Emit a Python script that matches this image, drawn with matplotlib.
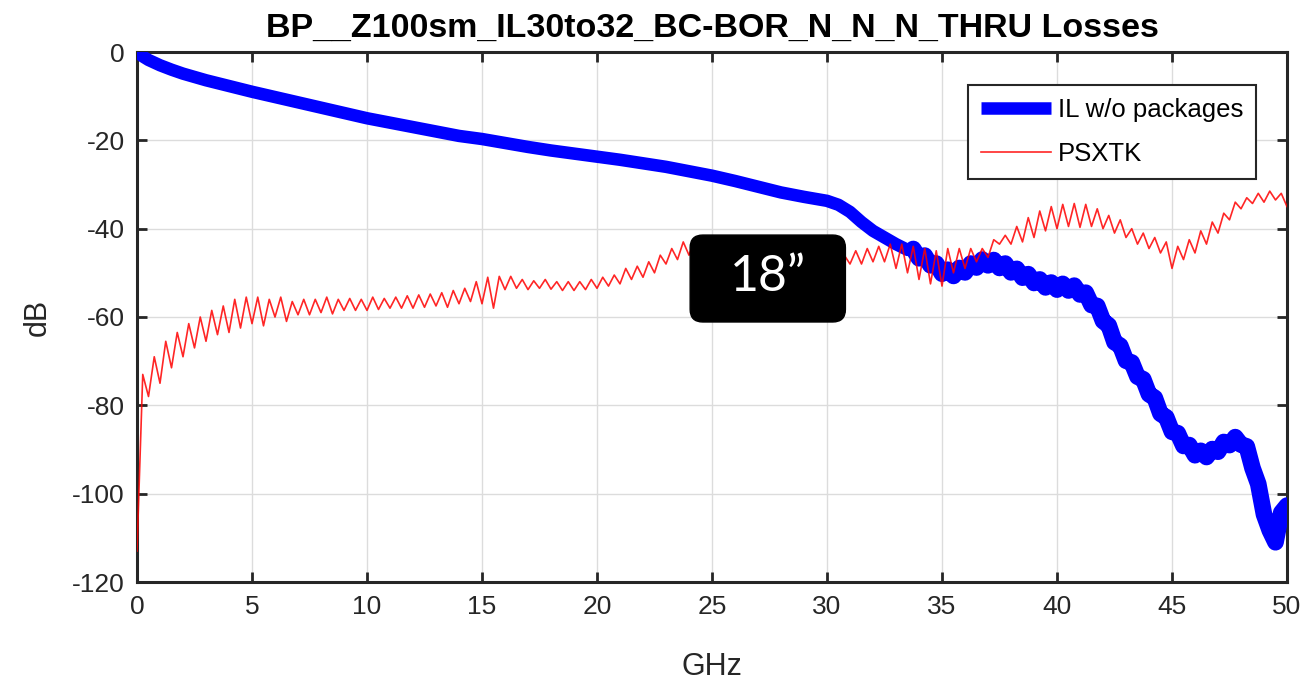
import numpy as np
import matplotlib
matplotlib.use("Agg")
import matplotlib.pyplot as plt
from matplotlib.patches import FancyBboxPatch

plt.rcParams['font.family'] = ['Liberation Sans', 'DejaVu Sans']
plt.rcParams['axes.unicode_minus'] = False

# ---- data ----
# IL w/o packages (thick blue), smooth part 0..33.5 GHz
il_f_coarse = [0, 0.25, 0.5, 1, 1.5, 2, 3, 4, 5, 6, 7, 8, 9, 10, 11, 12, 13, 14, 15, 16,
               17, 18, 19, 20, 21, 22, 23, 24, 25, 26, 27, 28, 29, 30, 30.5, 31, 31.5,
               32, 32.5, 33, 33.5]
il_db_coarse = [0, -1.0, -1.8, -3.0, -4.0, -4.9, -6.4, -7.7, -9.0, -10.2, -11.4, -12.6,
                -13.8, -15.0, -16.0, -17.0, -18.0, -19.0, -19.7, -20.6, -21.5, -22.3,
                -23.0, -23.7, -24.4, -25.2, -26.0, -27.0, -28.0, -29.2, -30.5, -31.8,
                -32.8, -33.7, -34.6, -36.2, -38.5, -40.5, -42.0, -43.5, -44.8]
# rippled, wider part, every 0.25 GHz from 33.75 to 50
il_db_fine = [-44.6, -46.7, -46.1, -48.3, -47.9, -50.2, -49.3, -50.7, -48.9, -49.9,
              -47.9, -48.8, -47.0, -48.3, -47.1, -48.9, -47.9, -49.9, -49.1, -51.1,
              -50.3, -52.3, -51.5, -53.3, -52.2, -53.8, -52.5, -54.0, -52.9, -54.9,
              -54.5, -57.3, -57.5, -60.9, -61.9, -65.7, -66.5, -69.9, -70.3, -73.5,
              -74.1, -77.5, -78.3, -81.9, -82.7, -86.0, -86.3, -89.2, -89.0, -91.3,
              -90.3, -91.7, -89.9, -90.5, -88.3, -89.0, -87.2, -88.9, -89.3, -94.2,
              -97.8, -104.7, -108.3, -111.0, -104.3, -102.7]

# PSXTK (thin red), every 0.25 GHz from 0 to 50
psxtk_db = [
    -113, -73, -78, -69, -75, -65.5, -71.5, -63.5, -69, -61.5, -67, -60, -65.5, -58.5, -64, -57.5, -63.5, -56, -62.5, -55.5,
    -61.5, -55.5, -62, -56, -60, -55.5, -61, -56.5, -59.5, -56, -59.5, -56, -59, -55.5, -59.3, -56, -58.5, -55.8, -58.5, -56,
    -58.5, -55.5, -58.3, -55.8, -58, -55.5, -58, -55.2, -58, -55, -57.8, -54.8, -57.5, -54.5, -57.8, -54, -57, -53.5, -56.5, -52,
    -57, -51, -58, -50.8, -53.8, -50.8, -53.5, -51.5, -53.8, -51.8, -53.5, -51.5, -53.7, -52, -54, -52, -54, -52, -53.8, -51.5,
    -53.5, -51, -53, -50.5, -52.5, -49, -51.5, -48.5, -51, -47.5, -50, -46, -48, -44.5, -47, -43, -46, -42.5, -45, -42,
    -45.5, -43, -46, -43.5, -46.5, -44, -47, -44, -47.5, -44.5, -47.5, -45, -48, -45, -48, -45.5, -48.5, -45.5, -48.5, -46,
    -49, -46, -49.5, -46, -48, -45, -48, -44.5, -47.5, -44, -47.5, -43.5, -49, -43.5, -50, -44, -51.5, -44.5, -52.5, -45,
    -53, -44.5, -50, -44.5, -49, -44.5, -47.5, -44.5, -46.5, -42.5, -43.5, -41.5, -43.5, -39.5, -43, -37.5, -42, -36, -40.5, -35,
    -40, -34.5, -39.5, -34.3, -39.7, -34.5, -39.5, -35.5, -40, -37, -41, -38, -42, -40, -43.5, -41, -44.5, -42, -45.5, -43,
    -49, -44, -47, -42.5, -45.5, -40.5, -43.5, -38.5, -41, -36.5, -38, -34, -35.5, -33, -34.3, -32, -34, -31.5, -33.5, -32,
    -35]

il_f_fine = 33.75 + 0.25 * np.arange(len(il_db_fine))
psxtk_f = 0.25 * np.arange(len(psxtk_db))

# ---- figure ----
fig = plt.figure(figsize=(13.04, 6.89), dpi=100)
ax = fig.add_axes([137 / 1304, 107 / 689, 1150 / 1304, 530 / 689])

blue = '#0000ff'
ax.plot(il_f_coarse + [33.75], il_db_coarse + [il_db_fine[0]], color=blue, lw=9,
        solid_joinstyle='round', solid_capstyle='butt', label='IL w/o packages', zorder=3)
ax.plot(il_f_fine, il_db_fine, color=blue, lw=12, solid_joinstyle='round',
        solid_capstyle='round', zorder=3)
ax.plot(psxtk_f, psxtk_db, color='#ff0000', lw=1.2, alpha=0.85,
        label='PSXTK', zorder=4)

ax.set_xlim(0, 50)
ax.set_ylim(-120, 0)
ax.set_xticks(np.arange(0, 51, 5))
ax.set_yticks(np.arange(-120, 1, 20))
ax.grid(True, color='#dcdcdc', lw=1)
ax.set_axisbelow(True)
ax.tick_params(direction='in', length=7, width=2, top=True, right=True,
               labelsize=19, colors='#262626', pad=9)
for s in ax.spines.values():
    s.set_linewidth(2.2)
    s.set_color('#262626')

ax.set_title('BP__Z100sm_IL30to32_BC-BOR_N_N_N_THRU Losses', fontsize=24.5,
             fontweight='bold', pad=11)
ax.set_xlabel('GHz', fontsize=22, color='#262626', labelpad=24)
ax.set_ylabel('dB', fontsize=22, color='#262626', labelpad=14)

leg = ax.legend(loc='upper right', bbox_to_anchor=(0.973, 0.938), borderaxespad=0,
                fontsize=18.5, frameon=True, fancybox=False, framealpha=1,
                edgecolor='#262626', handlelength=2.75, handletextpad=0.25,
                labelspacing=0.8, borderpad=0.5)
leg.get_frame().set_linewidth(1.5)

# black "18”" tag
asp = 1150 / 530
box = FancyBboxPatch((0.481, 0.4906), 0.135, 0.164, transform=ax.transAxes,
                     boxstyle='round,pad=0,rounding_size=0.011', mutation_aspect=asp,
                     fc='black', ec='black', zorder=6, clip_on=False)
ax.add_patch(box)
ax.text(0.5485, 0.575, '18\u201d', transform=ax.transAxes, ha='center', va='center',
        color='white', fontsize=36, family=['Lato', 'DejaVu Sans'], zorder=7)

fig.savefig('out.png', dpi=100)
